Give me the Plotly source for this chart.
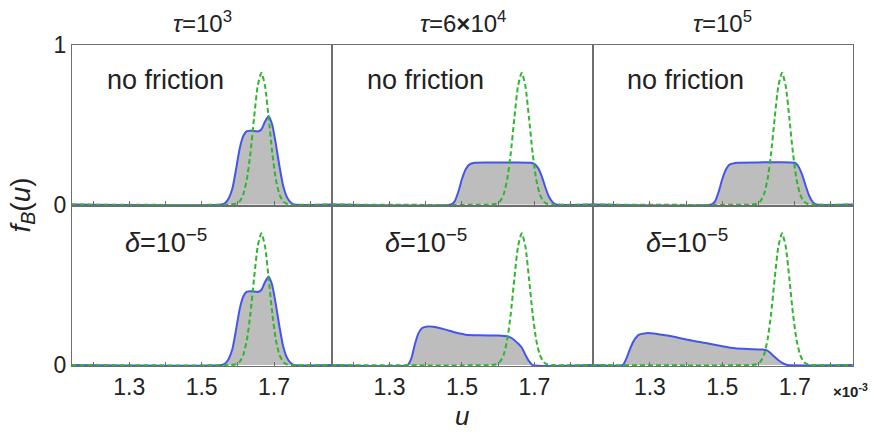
import plotly.graph_objects as go
from plotly.subplots import make_subplots

# ---------------- data ----------------
column_titles = ["<i>τ</i>=10<sup>3</sup>", "<i>τ</i>=6<b>×</b>10<sup>4</sup>", "<i>τ</i>=10<sup>5</sup>"]
row_labels = ["no friction", "<i>δ</i>=10<sup>−5</sup>"]

x_tickvals = [1.2, 1.3, 1.4, 1.5, 1.6, 1.7, 1.8]
x_ticktext = ["", "1.3", "", "1.5", "", "1.7", ""]

# green dashed reference distribution (same in every panel)
u_green = [1.14, 1.58, 1.595, 1.605, 1.615, 1.625, 1.635, 1.645, 1.655, 1.665,
           1.675, 1.685, 1.695, 1.705, 1.715, 1.725, 1.735, 1.75, 1.86]
f_green = [0.0, 0.0, 0.005, 0.02, 0.063, 0.158, 0.326, 0.547, 0.745, 0.826,
           0.745, 0.547, 0.326, 0.158, 0.063, 0.02, 0.005, 0.0, 0.0]

# blue (gray-filled) distributions
u_tau3 = [1.14, 1.555, 1.565, 1.575, 1.585, 1.595, 1.605, 1.615, 1.625, 1.64, 1.655,
          1.665, 1.675, 1.685, 1.695, 1.705, 1.715, 1.725, 1.735, 1.745, 1.755, 1.86]
f_tau3 = [0.0, 0.0, 0.01, 0.04, 0.1, 0.22, 0.35, 0.43, 0.46, 0.462, 0.458,
          0.47, 0.52, 0.555, 0.5, 0.38, 0.24, 0.12, 0.05, 0.015, 0.0, 0.0]

u_tau6e4_nf = [1.14, 1.47, 1.48, 1.49, 1.50, 1.51, 1.52, 1.535, 1.6, 1.69, 1.70,
               1.71, 1.72, 1.73, 1.74, 1.75, 1.76, 1.86]
f_tau6e4_nf = [0.0, 0.0, 0.02, 0.08, 0.16, 0.22, 0.25, 0.262, 0.263, 0.262, 0.255,
               0.23, 0.18, 0.11, 0.05, 0.015, 0.0, 0.0]

u_tau1e5_nf = [1.14, 1.47, 1.48, 1.49, 1.50, 1.51, 1.52, 1.54, 1.6, 1.70, 1.71,
               1.72, 1.73, 1.74, 1.75, 1.76, 1.86]
f_tau1e5_nf = [0.0, 0.0, 0.02, 0.08, 0.16, 0.22, 0.25, 0.262, 0.264, 0.262, 0.24,
               0.19, 0.12, 0.055, 0.015, 0.0, 0.0]

u_tau6e4_fr = [1.14, 1.35, 1.36, 1.37, 1.38, 1.39, 1.405, 1.42, 1.45, 1.48, 1.51,
               1.55, 1.6, 1.625, 1.64, 1.655, 1.665, 1.675, 1.685, 1.695, 1.86]
f_tau6e4_fr = [0.0, 0.0, 0.04, 0.13, 0.2, 0.232, 0.242, 0.24, 0.225, 0.205, 0.19,
               0.186, 0.185, 0.18, 0.165, 0.135, 0.11, 0.065, 0.025, 0.0, 0.0]

u_tau1e5_fr = [1.14, 1.225, 1.235, 1.245, 1.255, 1.27, 1.29, 1.32, 1.36, 1.40, 1.45,
               1.50, 1.535, 1.57, 1.61, 1.625, 1.64, 1.655, 1.67, 1.68, 1.86]
f_tau1e5_fr = [0.0, 0.0, 0.04, 0.1, 0.15, 0.19, 0.2, 0.195, 0.18, 0.16, 0.14,
               0.118, 0.105, 0.1, 0.097, 0.09, 0.06, 0.03, 0.008, 0.0, 0.0]

panels = {
    (1, 1): (u_tau3, f_tau3),
    (1, 2): (u_tau6e4_nf, f_tau6e4_nf),
    (1, 3): (u_tau1e5_nf, f_tau1e5_nf),
    (2, 1): (u_tau3, f_tau3),
    (2, 2): (u_tau6e4_fr, f_tau6e4_fr),
    (2, 3): (u_tau1e5_fr, f_tau1e5_fr),
}

# ---------------- figure ----------------
FONT = "Arial, Liberation Sans, sans-serif"
AX = "#6e6e6e"
TXT = "#222"
W, H = 874, 434
L, R, T, B = 72, 21, 45, 68

fig = make_subplots(rows=2, cols=3, horizontal_spacing=0, vertical_spacing=0)

for (r, c), (uu, ff) in panels.items():
    fig.add_trace(go.Scatter(x=uu, y=ff, mode="lines", fill="tozeroy",
                             fillcolor="#bdbdbd",
                             line=dict(color="#4455ee", width=2, shape="spline", smoothing=0.5),
                             hoverinfo="skip", showlegend=False), row=r, col=c)
    fig.add_trace(go.Scatter(x=u_green, y=f_green, mode="lines",
                             line=dict(color="#2fb52f", width=2, dash="5px,3px",
                                       shape="spline", smoothing=0.6),
                             hoverinfo="skip", showlegend=False), row=r, col=c)

for r in (1, 2):
    for c in (1, 2, 3):
        fig.update_xaxes(range=[1.142, 1.861], tickvals=x_tickvals, ticktext=x_ticktext,
                         ticks="inside", ticklen=4, tickwidth=1, tickcolor=AX,
                         showticklabels=(r == 2), showline=True, linecolor=AX, linewidth=1.2,
                         mirror=True, showgrid=False, zeroline=False,
                         tickfont=dict(family=FONT, size=23, color=TXT),
                         row=r, col=c)
        if c == 1:
            yt = [0, 1] if r == 1 else [0]
            fig.update_yaxes(range=[-0.006, 1.0], tickvals=yt, ticktext=[str(v) for v in yt],
                             ticks="", showticklabels=True,
                             showline=True, linecolor=AX, linewidth=1.2, mirror=True,
                             showgrid=False, zeroline=False,
                             tickfont=dict(family=FONT, size=23, color=TXT),
                             row=r, col=c)
        else:
            fig.update_yaxes(range=[-0.006, 1.0], showticklabels=False, ticks="",
                             showline=True, linecolor=AX, linewidth=1.2, mirror=True,
                             showgrid=False, zeroline=False, row=r, col=c)

annotations = []
for i, t in enumerate(column_titles):
    annotations.append(dict(text=t, xref="paper", yref="paper",
                            x=(i + 0.5) / 3.0, y=1.0, yshift=23, xanchor="center", yanchor="middle",
                            showarrow=False, font=dict(family=FONT, size=24, color=TXT)))

# panel labels
for r in (1, 2):
    for c in (1, 2, 3):
        idx = (r - 1) * 3 + c
        xr = "x" if idx == 1 else f"x{idx}"
        yr = "y" if idx == 1 else f"y{idx}"
        if r == 1:
            annotations.append(dict(text=row_labels[0], xref=xr, yref=yr, x=1.232, y=0.78,
                                    xanchor="left", yanchor="middle", showarrow=False,
                                    font=dict(family=FONT, size=27, color=TXT)))
        else:
            annotations.append(dict(text=row_labels[1], xref=xr, yref=yr, x=1.283, y=0.775,
                                    xanchor="left", yanchor="middle", showarrow=False,
                                    font=dict(family=FONT, size=27, color=TXT)))

annotations.append(dict(text="<i>f<sub>B</sub></i>(<i>u</i>)", xref="paper", yref="paper",
                        x=0, xshift=-50, y=0.5, textangle=-90, xanchor="center", yanchor="middle",
                        showarrow=False, font=dict(family=FONT, size=28, color=TXT)))
annotations.append(dict(text="<i>u</i>", xref="paper", yref="paper",
                        x=(462 - L) / (W - L - R), y=0, yshift=-50, xanchor="center", yanchor="middle",
                        showarrow=False, font=dict(family=FONT, size=26, color=TXT)))
annotations.append(dict(text="<b>×10<sup>-3</sup></b>", xref="paper", yref="paper",
                        x=1.0, xshift=-22, y=0, yshift=-24, xanchor="left", yanchor="middle",
                        showarrow=False, font=dict(family=FONT, size=15, color=TXT)))

fig.update_layout(width=W, height=H, margin=dict(l=L, r=R, t=T, b=B),
                  paper_bgcolor="white", plot_bgcolor="white",
                  annotations=annotations, showlegend=False)

fig.write_html("out.html")
